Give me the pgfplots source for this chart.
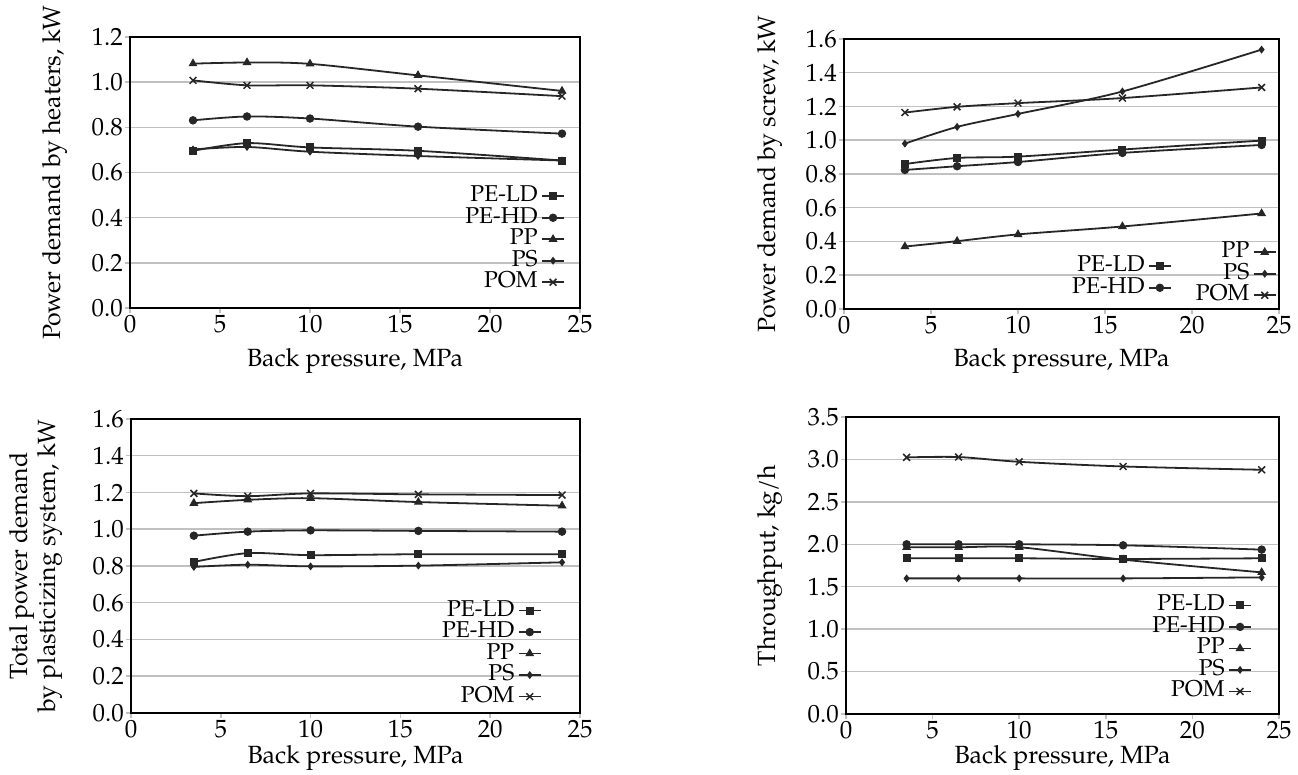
\documentclass[border=0pt]{standalone}
\usepackage{fontspec}
\setmainfont{texgyrepagella}[Extension=.otf, UprightFont=*-regular, BoldFont=*-bold, ItalicFont=*-italic, BoldItalicFont=*-bolditalic]
\usepackage{pgfplots}
\pgfplotsset{compat=1.18}
\definecolor{gridc}{HTML}{C0C0C0}
\definecolor{linec}{HTML}{262626}
\pgfplotsset{
 base/.style={
  scale only axis,
  xmin=0, xmax=25, xtick={0,5,10,15,20,25}, ymin=0,
  axis line style={black, line width=1.5bp},
  ymajorgrids, grid style={gridc, line width=1.5bp},
  tick align=outside, major tick length=5bp,
  tick style={gridc, line width=1.5bp},
  xtick pos=bottom, ytick pos=left,
  /pgf/number format/assume math mode=true,
  ticklabel style={font=\fontsize{25}{29}\selectfont},
  xticklabel style={inner sep=2bp},
  yticklabel style={inner sep=2bp, /pgf/number format/.cd, fixed, fixed zerofill, precision=1},
  label style={font=\fontsize{25}{29}\selectfont},
  xlabel={Back pressure, MPa},
  every axis plot/.append style={linec, line width=1.8bp, smooth, mark options={solid, fill=linec, line width=1bp}},
  legend plot pos=right,
  legend cell align=right,
  legend image code/.code={\path (0bp,0bp) (25bp,0bp); \draw[mark repeat=2, mark phase=2] plot coordinates {(3bp,0bp) (14bp,0bp) (25bp,0bp)};},
  legend style={draw=none, fill=none, inner sep=0pt, font=\fontsize{23}{26}\selectfont, row sep=1.5bp, nodes={inner sep=0.5bp, text height=15bp, text depth=4bp}, anchor=north east},
 },
 ld/.style={mark=square*, mark size=3.5bp},
 hd/.style={mark=*, mark size=3.7bp},
 pp/.style={mark=triangle*, mark size=4.2bp},
 ps/.style={mark=diamond*, mark size=3.2bp},
 pom/.style={mark=x, mark size=4.8bp, mark options={line width=1.5bp}},
}
\begin{document}
\begin{tikzpicture}
\path[use as bounding box] (0,0) rectangle (1298bp,775bp);
% ---------- top left: heaters
\begin{axis}[base, at={(130bp,467bp)}, anchor=south west, width=450bp, height=271bp,
  ymax=1.2, ytick={0,0.2,...,1.2},
  ylabel={Power demand by heaters, kW},
  ylabel style={at={(axis description cs:-0.167,0.5)}, anchor=center},
  xlabel style={at={(axis description cs:0.5,-0.196)}, anchor=center},
  legend style={at={(axis description cs:0.967,0.45)}}]
\addplot[ld] coordinates {(3.5,0.696) (6.5,0.730) (10,0.711) (16,0.696) (24,0.653)};
\addlegendentry{PE-LD}
\addplot[hd] coordinates {(3.5,0.831) (6.5,0.848) (10,0.839) (16,0.803) (24,0.772)};
\addlegendentry{PE-HD}
\addplot[pp] coordinates {(3.5,1.082) (6.5,1.087) (10,1.081) (16,1.030) (24,0.961)};
\addlegendentry{PP}
\addplot[ps] coordinates {(3.5,0.702) (6.5,0.713) (10,0.692) (16,0.673) (24,0.653)};
\addlegendentry{PS}
\addplot[pom] coordinates {(3.5,1.008) (6.5,0.986) (10,0.986) (16,0.971) (24,0.938)};
\addlegendentry{POM}
\end{axis}
% ---------- top right: screw
\begin{axis}[base, at={(844bp,466bp)}, anchor=south west, width=435bp, height=270bp,
  ymax=1.6, ytick={0,0.2,...,1.6},
  ylabel={Power demand by screw, kW},
  ylabel style={at={(axis description cs:-0.170,0.5)}, anchor=center},
  xlabel style={at={(axis description cs:0.5,-0.193)}, anchor=center},
  legend style={at={(axis description cs:0.754,0.196)}}]
\addplot[ld] coordinates {(3.5,0.859) (6.5,0.895) (10,0.903) (16,0.945) (24,0.998)};
\addlegendentry{PE-LD}
\addplot[hd] coordinates {(3.5,0.824) (6.5,0.846) (10,0.871) (16,0.925) (24,0.972)};
\addlegendentry{PE-HD}
\addplot[pp] coordinates {(3.5,0.370) (6.5,0.402) (10,0.442) (16,0.489) (24,0.566)};
\addplot[ps] coordinates {(3.5,0.980) (6.5,1.079) (10,1.156) (16,1.289) (24,1.537)};
\addplot[pom] coordinates {(3.5,1.164) (6.5,1.198) (10,1.220) (16,1.250) (24,1.313)};
\end{axis}
\begin{axis}[base, hide axis, at={(844bp,466bp)}, anchor=south west, width=435bp, height=270bp,
  ymax=1.6, legend style={at={(axis description cs:0.995,0.248)}}]
\addlegendimage{linec, line width=1.8bp, pp, mark options={solid, fill=linec, line width=1bp}}
\addlegendentry{PP}
\addlegendimage{linec, line width=1.8bp, ps, mark options={solid, fill=linec, line width=1bp}}
\addlegendentry{PS}
\addlegendimage{linec, line width=1.8bp, pom, mark options={solid, line width=1.5bp}}
\addlegendentry{POM}
\end{axis}
% ---------- bottom left: total
\begin{axis}[base, at={(131bp,62bp)}, anchor=south west, width=449bp, height=294bp,
  ymax=1.6, ytick={0,0.2,...,1.6},
  ylabel={Total power demand\\by plasticizing system, kW},
  ylabel style={at={(axis description cs:-0.2116,0.5)}, anchor=center, align=center},
  xlabel style={at={(axis description cs:0.5,-0.153)}, anchor=center},
  legend style={at={(axis description cs:0.915,0.383)}}]
\addplot[ld] coordinates {(3.5,0.822) (6.5,0.870) (10,0.859) (16,0.864) (24,0.864)};
\addlegendentry{PE-LD}
\addplot[hd] coordinates {(3.5,0.965) (6.5,0.987) (10,0.994) (16,0.991) (24,0.987)};
\addlegendentry{PE-HD}
\addplot[pp] coordinates {(3.5,1.142) (6.5,1.160) (10,1.169) (16,1.148) (24,1.128)};
\addlegendentry{PP}
\addplot[ps] coordinates {(3.5,0.795) (6.5,0.807) (10,0.798) (16,0.802) (24,0.820)};
\addlegendentry{PS}
\addplot[pom] coordinates {(3.5,1.195) (6.5,1.180) (10,1.195) (16,1.190) (24,1.186)};
\addlegendentry{POM}
\end{axis}
% ---------- bottom right: throughput
\begin{axis}[base, at={(846bp,61bp)}, anchor=south west, width=433bp, height=297bp,
  ymax=3.5, ytick={0,0.5,...,3.5},
  ylabel={Throughput, kg/h},
  ylabel style={at={(axis description cs:-0.1755,0.5)}, anchor=center},
  xlabel style={at={(axis description cs:0.5,-0.148)}, anchor=center},
  legend style={at={(axis description cs:0.938,0.40)}}]
\addplot[ld] coordinates {(3.5,1.835) (6.5,1.835) (10,1.835) (16,1.827) (24,1.835)};
\addlegendentry{PE-LD}
\addplot[hd] coordinates {(3.5,2.0) (6.5,2.0) (10,2.0) (16,1.988) (24,1.937)};
\addlegendentry{PE-HD}
\addplot[pp] coordinates {(3.5,1.965) (6.5,1.965) (10,1.965) (16,1.819) (24,1.669)};
\addlegendentry{PP}
\addplot[ps] coordinates {(3.5,1.598) (6.5,1.598) (10,1.598) (16,1.598) (24,1.610)};
\addlegendentry{PS}
\addplot[pom] coordinates {(3.5,3.024) (6.5,3.028) (10,2.972) (16,2.917) (24,2.878)};
\addlegendentry{POM}
\end{axis}
\end{tikzpicture}
\end{document}
